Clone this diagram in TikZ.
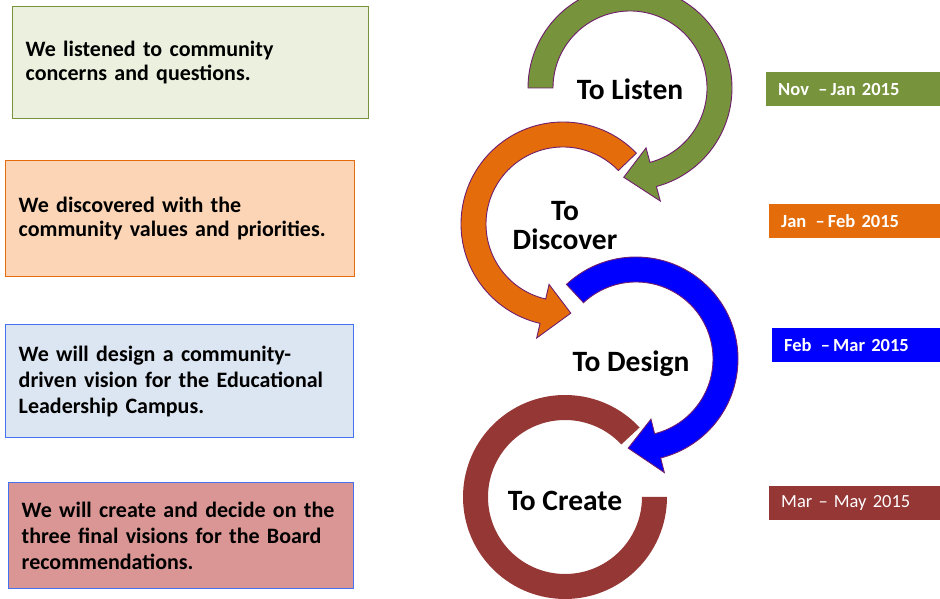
\documentclass[tikz,border=0pt]{standalone}
\usepackage{fontspec}
\setmainfont{Carlito}
\usetikzlibrary{positioning}

\definecolor{lgreen}{RGB}{119,147,60}
\definecolor{lgreenfill}{RGB}{235,241,222}
\definecolor{dorange}{RGB}{228,108,10}
\definecolor{dorangefill}{RGB}{251,213,181}
\definecolor{dblue}{RGB}{0,0,255}
\definecolor{dbluefill}{RGB}{220,230,242}
\definecolor{dblueline}{RGB}{68,114,240}
\definecolor{dbrown}{RGB}{149,55,53}
\definecolor{dbrownfill}{RGB}{217,150,148}
\definecolor{rimcol}{RGB}{112,30,110}

\tikzset{
  infobox/.style={draw, line width=1.4pt, anchor=north west, align=left,
    inner xsep=13pt, inner ysep=0pt,
    font=\fontsize{22}{24.5}\selectfont\bfseries},
  datebox/.style={anchor=north west, align=left, text=white, inner xsep=12pt,
    inner ysep=0pt, minimum height=34pt, text width=150pt,
    font=\fontsize{18.5}{20}\selectfont\bfseries},
  steplabel/.style={align=center, font=\fontsize{29.5}{31}\selectfont\bfseries},
  ring/.style={draw=rimcol, line width=0.9pt}
}

\begin{document}
\begin{tikzpicture}[x=1pt,y=1pt]
  \useasboundingbox (0,0) rectangle (940,599);

  % centres of the four circles
  \coordinate (gc) at (630,511);
  \coordinate (oc) at (563,375);
  \coordinate (bc) at (636,240);
  \coordinate (rc) at (565,102);

  % To Listen
  \begin{scope}[shift={(gc)}]
    \path[ring, fill=lgreen] (180:102) arc[start angle=180, end angle=-75, radius=102]
      -- (-75:117) -- (-94:89.5) -- (-75:62) -- (-75:77)
      arc[start angle=-75, end angle=180, radius=77] -- cycle;
  \end{scope}
  % To Discover
  \begin{scope}[shift={(oc)}]
    \path[ring, fill=dorange] (44:102) arc[start angle=44, end angle=257, radius=102]
      -- (257:117) -- (275:89.5) -- (257:62) -- (257:77)
      arc[start angle=257, end angle=44, radius=77] -- cycle;
  \end{scope}
  % To Design
  \begin{scope}[shift={(bc)}]
    \path[ring, fill=dblue] (133:102) arc[start angle=133, end angle=-76, radius=102]
      -- (-76:117) -- (-95:89.5) -- (-76:62) -- (-76:77)
      arc[start angle=-76, end angle=133, radius=77] -- cycle;
  \end{scope}
  % To Create
  \begin{scope}[shift={(rc)}]
    \path[fill=dbrown] (43:102) arc[start angle=43, end angle=360, radius=102]
      -- (0:77) arc[start angle=360, end angle=43, radius=77] -- cycle;
  \end{scope}

  \node[steplabel] (Listen) at (630,510) {To Listen};
  \node[steplabel] (Discover) at (565,373) {To\\[-2pt]Discover};
  \node[steplabel] (Design) at (631,235) {To Design};
  \node[steplabel] (Create) at (565,98) {To Create};

  % left boxes
  \node[infobox, draw=lgreen, fill=lgreenfill, text width=330pt, minimum height=112pt]
    (ListenBox) at (12,593) {We listened to community\\concerns and questions.};
  \node[infobox, draw=dorange, fill=dorangefill, text width=323pt, minimum height=116pt]
    (DiscoverBox) at (5,439) {We discovered with the\\community values and priorities.};
  \node[infobox, draw=dblueline, fill=dbluefill, text width=322pt, minimum height=113pt,
    font=\fontsize{22}{26}\selectfont\bfseries]
    (DesignBox) at (5,275) {We will design a community-\\driven vision for the Educational\\Leadership Campus.};
  \node[infobox, draw=dblueline, fill=dbrownfill, text width=319pt, minimum height=106pt,
    font=\fontsize{22}{26}\selectfont\bfseries]
    (CreateBox) at (8,117) {We will create and decide on the\\three final visions for the Board\\recommendations.};

  % dates
  \node[datebox, fill=lgreen] (ListenDate) at (766,527) {Nov\ \,--\,Jan 2015};
  \node[datebox, fill=dorange, text width=147pt] (DiscoverDate) at (769,395) {Jan\ \,--\,Feb 2015};
  \node[datebox, fill=dblue, text width=144pt] (DesignDate) at (772,271) {Feb\ \,--\,Mar 2015};
  \node[datebox, fill=dbrown, text width=147pt, font=\fontsize{18.5}{20}\selectfont]
    (CreateDate) at (769,113) {Mar -- May 2015};
\end{tikzpicture}
\end{document}
